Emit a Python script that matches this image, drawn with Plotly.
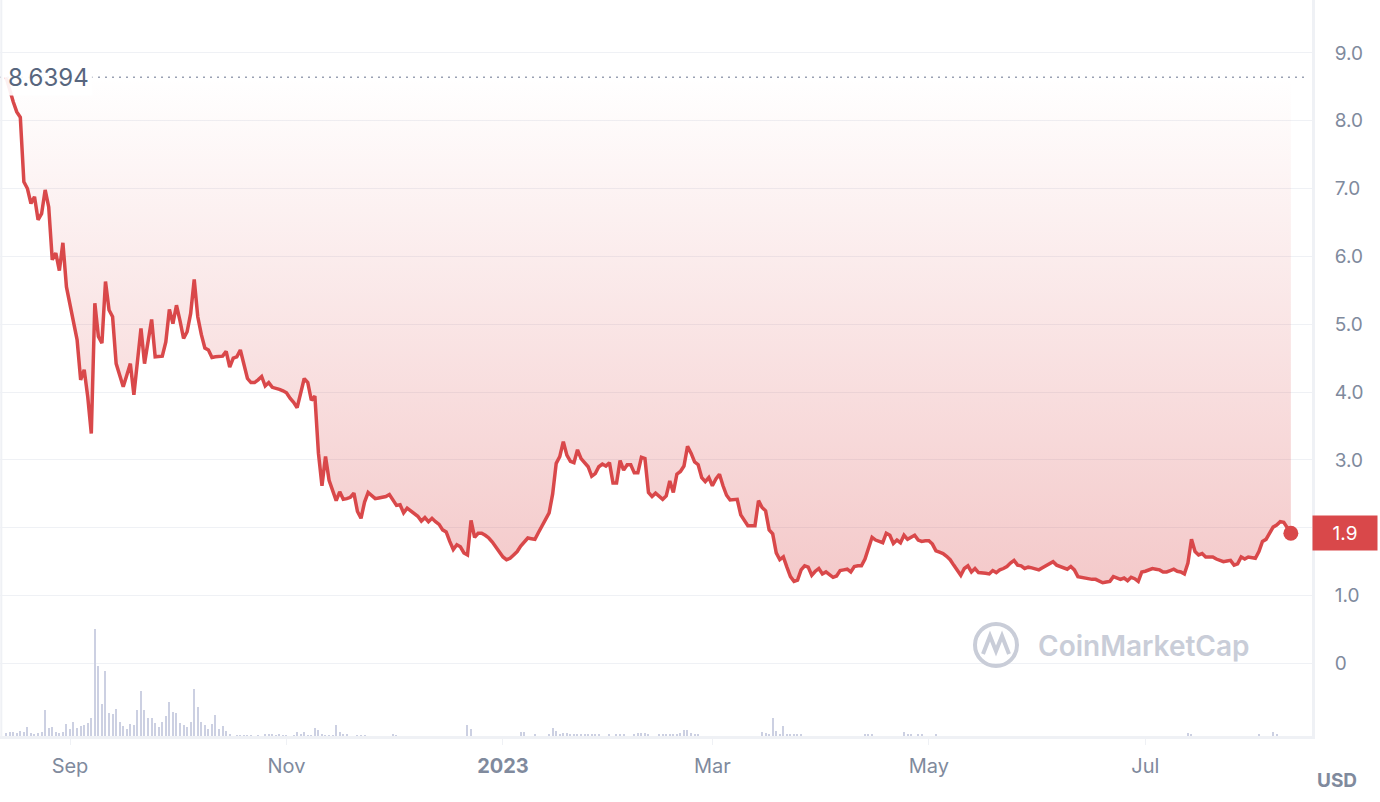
import plotly.graph_objects as go
import pandas as pd

# ---------------- data ----------------
start_date = "2022-08-14"
open_price = 8.6394
last_label = "1.9"

# daily close prices (USD), starting at start_date
price = [
    8.64, 8.45, 8.28, 8.13, 8.05, 7.10, 7.00, 6.78, 6.88, 6.54,
    6.63, 6.98, 6.73, 5.95, 6.05, 5.79, 6.20, 5.55, 5.31, 5.05,
    4.77, 4.18, 4.33, 3.93, 3.39, 5.31, 4.82, 4.72, 5.63, 5.21,
    5.11, 4.42, 4.25, 4.08, 4.25, 4.42, 3.96, 4.45, 4.94, 4.42,
    4.75, 5.07, 4.52, 4.52, 4.53, 4.74, 5.22, 5.01, 5.28, 5.05,
    4.79, 4.89, 5.16, 5.66, 5.11, 4.85, 4.65, 4.62, 4.51, 4.52,
    4.53, 4.53, 4.60, 4.37, 4.50, 4.52, 4.62, 4.38, 4.20, 4.14,
    4.14, 4.18, 4.23, 4.09, 4.14, 4.07, 4.06, 4.04, 4.02, 3.99,
    3.91, 3.85, 3.77, 3.98, 4.20, 4.14, 3.88, 3.94, 3.10, 2.62,
    3.05, 2.70, 2.53, 2.40, 2.53, 2.42, 2.43, 2.45, 2.51, 2.24,
    2.14, 2.38, 2.52, 2.47, 2.43, 2.44, 2.45, 2.46, 2.49, 2.42,
    2.33, 2.34, 2.22, 2.29, 2.25, 2.21, 2.17, 2.10, 2.15, 2.09,
    2.14, 2.09, 2.05, 1.97, 1.94, 1.80, 1.68, 1.75, 1.72, 1.63,
    1.60, 2.11, 1.86, 1.92, 1.92, 1.89, 1.85, 1.79, 1.72, 1.63,
    1.57, 1.53, 1.55, 1.60, 1.65, 1.73, 1.80, 1.85, 1.84, 1.83,
    1.93, 2.02, 2.11, 2.22, 2.50, 2.95, 3.05, 3.27, 3.07, 2.98,
    2.96, 3.15, 3.02, 2.95, 2.90, 2.76, 2.80, 2.90, 2.94, 2.91,
    2.96, 2.66, 2.66, 2.99, 2.85, 2.93, 2.93, 2.81, 2.81, 3.04,
    3.02, 2.52, 2.46, 2.51, 2.47, 2.42, 2.47, 2.69, 2.52, 2.79,
    2.83, 2.91, 3.20, 3.10, 2.97, 2.93, 2.74, 2.68, 2.74, 2.62,
    2.72, 2.79, 2.62, 2.48, 2.41, 2.41, 2.42, 2.19, 2.10, 2.03,
    2.03, 2.03, 2.40, 2.30, 2.25, 1.97, 1.91, 1.63, 1.53, 1.57,
    1.42, 1.28, 1.21, 1.23, 1.38, 1.44, 1.42, 1.30, 1.36, 1.40,
    1.32, 1.35, 1.31, 1.27, 1.29, 1.37, 1.38, 1.39, 1.35, 1.43,
    1.44, 1.44, 1.54, 1.72, 1.86, 1.82, 1.80, 1.78, 1.92, 1.89,
    1.77, 1.82, 1.78, 1.89, 1.83, 1.86, 1.89, 1.82, 1.80, 1.81,
    1.81, 1.76, 1.66, 1.64, 1.62, 1.58, 1.53, 1.45, 1.38, 1.30,
    1.40, 1.44, 1.35, 1.40, 1.34, 1.34, 1.33, 1.32, 1.37, 1.34,
    1.38, 1.40, 1.43, 1.48, 1.52, 1.45, 1.44, 1.40, 1.42, 1.41,
    1.40, 1.38, 1.41, 1.44, 1.47, 1.50, 1.45, 1.43, 1.42, 1.39,
    1.43, 1.38, 1.28, 1.27, 1.25, 1.24, 1.24, 1.24, 1.22, 1.19,
    1.20, 1.21, 1.28, 1.26, 1.24, 1.26, 1.22, 1.27, 1.25, 1.21,
    1.35, 1.36, 1.38, 1.40, 1.39, 1.38, 1.35, 1.35, 1.37, 1.39,
    1.36, 1.35, 1.32, 1.48, 1.83, 1.65, 1.60, 1.62, 1.57, 1.57,
    1.57, 1.54, 1.52, 1.50, 1.51, 1.52, 1.45, 1.47, 1.57, 1.54,
    1.57, 1.56, 1.55, 1.65, 1.80, 1.83, 1.92, 2.01, 2.04, 2.09,
    2.08, 2.01, 1.92,
]

# trading volume (relative units), by day offset from start_date
vol_day = [
    0, 1, 2, 3, 4, 5, 6, 7, 8, 9, 10, 11, 12, 13, 14, 15, 16, 17, 18, 19,
    20, 21, 22, 23, 24, 25, 26, 27, 28, 29, 30, 31, 32, 33, 34, 35, 36, 37, 38, 39,
    40, 41, 42, 43, 44, 45, 46, 47, 48, 49, 50, 51, 52, 53, 54, 55, 56, 57, 58, 59,
    60, 61, 62, 63, 65, 66, 67, 68, 69, 71, 73, 74, 75, 76, 77, 78, 79, 81, 82, 83,
    84, 85, 86, 87, 88, 89, 90, 91, 92, 93, 94, 95, 96, 99, 100, 101, 109, 110,
    130, 131, 145, 146, 149, 153, 154, 155, 156, 157, 158, 159, 160, 161, 162, 163,
    164, 165, 166, 167, 170, 172, 173, 174, 177, 178, 179, 180, 181, 184, 185, 186,
    187, 188, 189, 190, 191, 192, 193, 194, 195, 213, 214, 215, 216, 217, 218, 219,
    220, 221, 222, 223, 224, 242, 243, 244, 253, 254, 255, 257, 258, 262, 333, 334,
    353, 357, 358,
]
vol_value = [
    3.3, 4, 4, 3, 5, 4, 9, 3, 1.3, 3, 4, 26.3, 8, 9, 4, 3, 4, 12.3, 7.3, 14,
    8, 10, 11.3, 13, 18, 107.3, 70, 32.3, 65, 23.3, 22.3, 27.3, 14, 10, 7.3, 12.3, 11.3, 26.3, 45, 26.3,
    18, 18, 13, 9, 14, 20, 34, 24, 23, 13, 10.7, 9, 14, 47.3, 29, 14, 10.7, 7.3, 12.3, 21.3,
    7.3, 10, 5, 2.3, 1, 1, 1, 1, 1, 1, 2, 2, 2, 1, 2, 1, 1, 1, 4, 2,
    4, 1, 1, 8, 6.3, 2, 1, 1, 1, 11, 4, 2, 2, 1, 1, 1, 2, 1,
    11.3, 7, 4, 4, 1.3, 2.3, 8, 5, 2.3, 3.3, 3.3, 2.3, 2.3, 1.3, 1.3, 1.3,
    1.3, 1.3, 1.3, 1.3, 1.3, 2.3, 1.3, 2.3, 1.3, 3.3, 3.3, 3.3, 1.3, 1.3, 1.3, 1.3,
    1.3, 2.3, 1.3, 3.3, 6, 6, 3.3, 1.3, 1.3, 4, 3.3, 1.3, 18.3, 5, 2.3, 10.3,
    2.3, 2.3, 1.3, 1.3, 1.3, 2.3, 1.3, 1.3, 4, 1.3, 2.3, 2.3, 1.3, 1.3, 3.3, 1.3,
    2.3, 4, 1.3,
]

tick_dates = ["2022-09-01", "2022-11-01", "2023-01-01", "2023-03-01", "2023-05-01", "2023-07-01"]
tick_text = ["Sep", "Nov", "<b>2023</b>", "Mar", "May", "Jul"]
y_ticks = [0, 1, 2, 3, 4, 5, 6, 7, 8, 9]
# the 2.0 label sits under the current-price badge in the reference
y_ticktext = ["0", "1.0", "", "3.0", "4.0", "5.0", "6.0", "7.0", "8.0", "9.0"]

# ---------------- figure ----------------
dates = pd.date_range(start_date, periods=len(price), freq="D")
vol_dates = pd.Timestamp(start_date) + pd.to_timedelta(vol_day, unit="D")

RED = "#d9484a"
GRID = "#eff1f5"
TXT = "#808a9d"
WM = "#c9cdd8"

W, H = 1380, 802
ML, MR, MT, MB = 0, 68, 0, 66
PW, PH = W - ML - MR, H - MT - MB


def px_x(x):
    return (x - ML) / PW


def px_y(y):
    return (H - MB - y) / PH


fig = go.Figure()

fig.add_trace(go.Bar(
    x=vol_dates, y=vol_value, yaxis="y2",
    marker=dict(color="#ccd0e2", line_width=0),
    width=0.32 * 86400000, hoverinfo="skip", showlegend=False,
))

fig.add_trace(go.Scatter(
    x=dates, y=[open_price] * len(dates), mode="lines",
    line=dict(width=0, color="rgba(0,0,0,0)"), hoverinfo="skip", showlegend=False,
))

fig.add_trace(go.Scatter(
    x=dates, y=price, mode="lines",
    line=dict(color=RED, width=3.5),
    fill="tonexty",
    fillgradient=dict(
        type="vertical",
        colorscale=[[0, "rgba(217,72,74,0.30)"], [1, "rgba(217,72,74,0.0)"]],
        start=1.0, stop=open_price,
    ),
    showlegend=False,
))

fig.add_trace(go.Scatter(
    x=[dates[-1]], y=[price[-1]], mode="markers",
    marker=dict(color=RED, size=15), showlegend=False, hoverinfo="skip",
))

shapes = [
    # dotted open-price reference line
    dict(type="line", xref="paper", yref="y", x0=px_x(0), x1=px_x(1306),
         y0=open_price, y1=open_price,
         line=dict(color="#9aa1b3", width=1.6, dash="2px,5px")),
    # left border
    dict(type="line", xref="paper", yref="paper", x0=0.001, x1=0.001, y0=0, y1=1,
         line=dict(color=GRID, width=2)),
    # watermark logo ring
    dict(type="circle", xref="paper", yref="paper",
         x0=px_x(975), x1=px_x(1017), y0=px_y(666), y1=px_y(624),
         line=dict(color=WM, width=4)),
    dict(type="path", xref="paper", yref="paper",
         path="M {} {} L {} {} L {} {} L {} {} L {} {}".format(
             px_x(983), px_y(654), px_x(990), px_y(636), px_x(996), px_y(651),
             px_x(1002), px_y(636), px_x(1009), px_y(654)),
         line=dict(color=WM, width=4)),
]

annotations = [
    dict(xref="paper", yref="y", x=px_x(4), y=open_price, xanchor="left", yanchor="middle",
         text="8.6394", showarrow=False, font=dict(size=24, color="#58667e", family="Inter"),
         bgcolor="rgba(255,255,255,0.92)", borderpad=3),
    dict(xref="paper", yref="y", x=px_x(1345), y=price[-1], xanchor="center", yanchor="middle",
         text=last_label, showarrow=False, font=dict(size=19, color="white", family="Inter"),
         bgcolor=RED, width=64, height=34, borderpad=0),
    dict(xref="paper", yref="paper", x=px_x(1337), y=px_y(780), xanchor="center", yanchor="middle",
         text="<b>USD</b>", showarrow=False, font=dict(size=19, color=TXT, family="Inter")),
    dict(xref="paper", yref="paper", x=px_x(1144), y=px_y(646), xanchor="center", yanchor="middle",
         text="CoinMarketCap", showarrow=False,
         font=dict(size=28, color=WM, family="Inter", weight=600)),
]

fig.update_layout(
    width=W, height=H,
    margin=dict(l=ML, r=MR, t=MT, b=MB),
    paper_bgcolor="white", plot_bgcolor="white",
    showlegend=False,
    font=dict(family="Inter", color=TXT),
    bargap=0,
    xaxis=dict(
        type="date", range=["2022-08-12 06:37", "2023-08-16 23:00"],
        tickvals=tick_dates, ticktext=tick_text,
        showgrid=False, zeroline=False,
        showline=True, linecolor=GRID, linewidth=3,
        ticks="outside", ticklen=6, tickcolor=GRID, tickwidth=1,
        tickfont=dict(size=20, color=TXT, family="Inter"),
        ticklabelstandoff=4,
    ),
    yaxis=dict(
        side="right", range=[-1.0685, 9.779],
        tickvals=y_ticks, ticktext=y_ticktext,
        showgrid=True, gridcolor=GRID, gridwidth=1, zeroline=False,
        showline=True, linecolor=GRID, linewidth=3,
        ticks="", tickfont=dict(size=19, color=TXT, family="Inter"),
        ticklabelstandoff=16,
    ),
    yaxis2=dict(overlaying="y", range=[0, max(vol_value) * PH / 107.3], visible=False),
    shapes=shapes,
    annotations=annotations,
)

fig.write_html(
    "out.html",
    config={"displayModeBar": False},
    post_script="document.body.style.margin='0';document.body.style.overflow='hidden';",
)
